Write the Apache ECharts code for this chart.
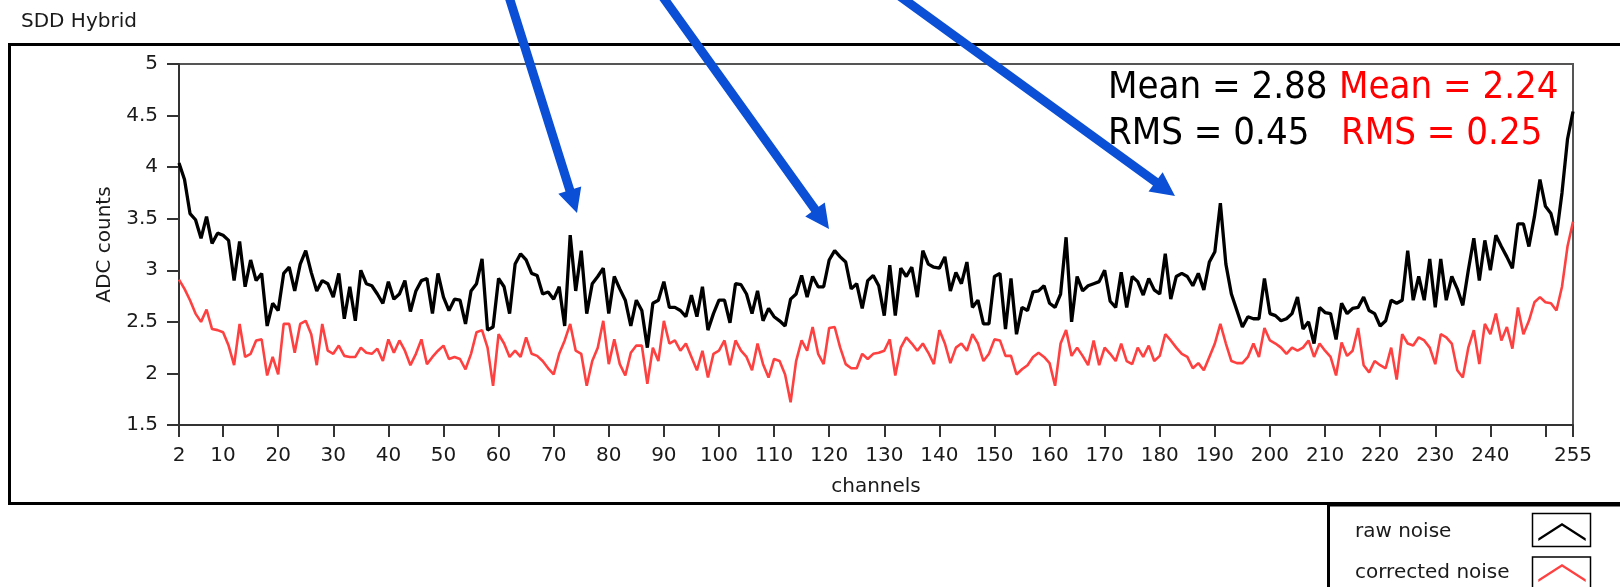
<!DOCTYPE html>
<html>
<head>
<meta charset="utf-8">
<title>SDD Hybrid</title>
<script src="https://cdn.jsdelivr.net/npm/echarts@6/dist/echarts.min.js"></script>
<style>
  html, body { margin: 0; padding: 0; background: #fff; }
  #main { width: 1620px; height: 587px; }
</style>
</head>
<body>
<div id="main"></div>
<script>
// channel numbers start at 2, one value per channel up to 255
const FIRST_CHANNEL = 2;

const rawNoise = [
  4.04, 3.88, 3.55, 3.49, 3.31, 3.52, 3.26, 3.36, 3.34, 3.29,
  2.90, 3.28, 2.84, 3.10, 2.90, 2.97, 2.46, 2.68, 2.61, 2.97,
  3.03, 2.80, 3.06, 3.19, 2.98, 2.80, 2.90, 2.87, 2.74, 2.97,
  2.53, 2.84, 2.51, 3.00, 2.87, 2.85, 2.77, 2.68, 2.89, 2.72,
  2.77, 2.90, 2.60, 2.80, 2.90, 2.92, 2.58, 2.97, 2.74, 2.61,
  2.72, 2.71, 2.48, 2.80, 2.87, 3.11, 2.42, 2.45, 2.92, 2.84,
  2.58, 3.06, 3.16, 3.10, 2.97, 2.95, 2.77, 2.79, 2.72, 2.84,
  2.46, 3.34, 2.80, 3.19, 2.58, 2.87, 2.94, 3.02, 2.58, 2.94,
  2.82, 2.71, 2.46, 2.71, 2.61, 2.25, 2.68, 2.71, 2.89, 2.64,
  2.64, 2.61, 2.55, 2.76, 2.55, 2.84, 2.42, 2.58, 2.71, 2.71,
  2.49, 2.87, 2.86, 2.77, 2.58, 2.80, 2.51, 2.63, 2.55, 2.51,
  2.46, 2.72, 2.77, 2.95, 2.74, 2.94, 2.84, 2.84, 3.10, 3.19,
  3.13, 3.08, 2.82, 2.87, 2.63, 2.90, 2.95, 2.85, 2.56, 3.05,
  2.56, 3.02, 2.94, 3.03, 2.74, 3.19, 3.06, 3.03, 3.02, 3.13,
  2.80, 2.98, 2.87, 3.08, 2.64, 2.71, 2.48, 2.48, 2.94, 2.97,
  2.43, 2.92, 2.38, 2.64, 2.61, 2.79, 2.80, 2.85, 2.68, 2.64,
  2.77, 3.32, 2.50, 2.94, 2.80, 2.85, 2.87, 2.89, 3.00, 2.70,
  2.64, 2.98, 2.64, 2.94, 2.89, 2.76, 2.92, 2.81, 2.77, 3.16,
  2.72, 2.94, 2.97, 2.94, 2.85, 2.97, 2.81, 3.08, 3.18, 3.65,
  3.06, 2.77, 2.61, 2.45, 2.55, 2.53, 2.53, 2.92, 2.58, 2.56,
  2.51, 2.53, 2.58, 2.74, 2.43, 2.50, 2.29, 2.64, 2.59, 2.58,
  2.33, 2.68, 2.58, 2.63, 2.64, 2.74, 2.61, 2.58, 2.46, 2.51,
  2.71, 2.68, 2.71, 3.19, 2.71, 2.94, 2.71, 3.11, 2.64, 3.11,
  2.71, 2.94, 2.82, 2.66, 3.00, 3.31, 2.90, 3.29, 3.00, 3.34,
  3.23, 3.13, 3.02, 3.45, 3.45, 3.23, 3.52, 3.88, 3.62, 3.55,
  3.34, 3.75, 4.27, 4.54
];

const correctedNoise = [
  2.91, 2.82, 2.71, 2.58, 2.50, 2.62, 2.43, 2.42, 2.40, 2.27,
  2.08, 2.48, 2.16, 2.19, 2.32, 2.33, 1.98, 2.16, 1.99, 2.48,
  2.48, 2.20, 2.48, 2.51, 2.38, 2.08, 2.48, 2.22, 2.19, 2.27,
  2.17, 2.16, 2.16, 2.25, 2.20, 2.19, 2.24, 2.12, 2.33, 2.20,
  2.32, 2.22, 2.08, 2.19, 2.33, 2.09, 2.16, 2.22, 2.27, 2.14,
  2.16, 2.14, 2.04, 2.19, 2.40, 2.42, 2.25, 1.88, 2.38, 2.29,
  2.16, 2.22, 2.16, 2.35, 2.19, 2.17, 2.12, 2.05, 1.99, 2.19,
  2.32, 2.48, 2.22, 2.19, 1.88, 2.12, 2.25, 2.51, 2.09, 2.33,
  2.09, 1.98, 2.20, 2.27, 2.27, 1.90, 2.25, 2.12, 2.51, 2.29,
  2.32, 2.22, 2.29, 2.16, 2.03, 2.22, 1.96, 2.19, 2.22, 2.32,
  2.08, 2.32, 2.22, 2.16, 2.03, 2.29, 2.09, 1.96, 2.14, 2.12,
  1.99, 1.72, 2.12, 2.32, 2.22, 2.45, 2.19, 2.09, 2.44, 2.45,
  2.25, 2.09, 2.05, 2.05, 2.19, 2.14, 2.19, 2.20, 2.22, 2.33,
  1.98, 2.25, 2.35, 2.29, 2.22, 2.29, 2.20, 2.09, 2.42, 2.29,
  2.10, 2.25, 2.29, 2.22, 2.38, 2.29, 2.12, 2.19, 2.33, 2.32,
  2.17, 2.17, 1.99, 2.04, 2.08, 2.16, 2.20, 2.16, 2.10, 1.88,
  2.29, 2.42, 2.17, 2.25, 2.17, 2.08, 2.32, 2.08, 2.25, 2.19,
  2.12, 2.29, 2.12, 2.09, 2.25, 2.16, 2.27, 2.12, 2.17, 2.38,
  2.32, 2.25, 2.19, 2.16, 2.05, 2.10, 2.03, 2.16, 2.29, 2.48,
  2.29, 2.12, 2.10, 2.10, 2.16, 2.29, 2.16, 2.44, 2.32, 2.29,
  2.25, 2.19, 2.25, 2.22, 2.25, 2.32, 2.16, 2.29, 2.22, 2.16,
  1.98, 2.30, 2.17, 2.22, 2.44, 2.08, 2.01, 2.12, 2.08, 2.05,
  2.25, 1.94, 2.38, 2.29, 2.27, 2.35, 2.32, 2.25, 2.09, 2.38,
  2.35, 2.29, 2.03, 1.96, 2.25, 2.42, 2.09, 2.48, 2.38, 2.58,
  2.32, 2.45, 2.24, 2.64, 2.38, 2.51, 2.69, 2.74, 2.69, 2.68,
  2.61, 2.84, 3.23, 3.47
];

const xLabelValues = [2, 10, 20, 30, 40, 50, 60, 70, 80, 90, 100, 110, 120, 130, 140, 150,
  160, 170, 180, 190, 200, 210, 220, 230, 240, 255];
const xTickValues = [2, 10, 20, 30, 40, 50, 60, 70, 80, 90, 100, 110, 120, 130, 140, 150,
  160, 170, 180, 190, 200, 210, 220, 230, 240, 250, 255];

const statsRaw = ['Mean = 2.88', 'RMS = 0.45'];
const statsCorrected = ['Mean = 2.24', 'RMS = 0.25'];

const FONT = '"DejaVu Sans", sans-serif';
const HAND = '"DejaVu Sans Condensed", "DejaVu Sans", sans-serif';
const chevron = 'path://M0,16 L25,0 L50,16 L50,19 L25,3 L0,19 Z';

const toPoints = arr => arr.map((v, i) => [FIRST_CHANNEL + i, v]);

// blue call-out arrow: shaft + head as one polygon
function arrow(x0, y0, x1, y1) {
  const dx = x1 - x0, dy = y1 - y0;
  const len = Math.sqrt(dx * dx + dy * dy);
  const ux = dx / len, uy = dy / len;
  const nx = -uy, ny = ux;
  const sx = x0 - ux * 15, sy = y0 - uy * 15;
  const head = 24, hw = 12, sw = 4.5;
  const bx = x1 - ux * head, by = y1 - uy * head;
  return {
    type: 'polygon',
    shape: {
      points: [
        [sx + nx * sw, sy + ny * sw],
        [bx + nx * sw, by + ny * sw],
        [bx + nx * hw, by + ny * hw],
        [x1, y1],
        [bx - nx * hw, by - ny * hw],
        [bx - nx * sw, by - ny * sw],
        [sx - nx * sw, sy - ny * sw]
      ]
    },
    style: {fill: '#0A4FD5'},
    z: 100
  };
}

const chart = echarts.init(document.getElementById('main'));

chart.setOption({
  backgroundColor: '#fff',
  animation: false,
  title: {
    text: 'SDD Hybrid',
    left: 21,
    top: 12,
    padding: 0,
    textStyle: {fontSize: 20, fontWeight: 'normal', color: '#1a1a1a', fontFamily: FONT}
  },
  grid: {
    left: 179,
    top: 64,
    width: 1394,
    height: 361,
    show: true,
    borderColor: '#555',
    borderWidth: 2
  },
  legend: {
    orient: 'vertical',
    left: 1355,
    top: 522,
    padding: 0,
    align: 'right',
    itemWidth: 50,
    itemHeight: 18,
    itemGap: 21,
    formatter: name => '{t|' + name + '}',
    textStyle: {
      fontSize: 20,
      color: '#1a1a1a',
      fontFamily: FONT,
      rich: {t: {width: 177, align: 'left', fontSize: 20, lineHeight: 22, fontFamily: FONT, color: '#1a1a1a'}}
    },
    data: [
      {name: 'raw noise', icon: chevron, itemStyle: {color: '#000'}},
      {name: 'corrected noise', icon: chevron, itemStyle: {color: '#FF4040'}}
    ]
  },
  xAxis: {
    type: 'value',
    min: 2,
    max: 255,
    name: 'channels',
    nameLocation: 'middle',
    nameGap: 52,
    nameTextStyle: {fontSize: 20, color: '#1a1a1a', fontFamily: FONT},
    axisLine: {show: true, lineStyle: {color: '#333', width: 2}},
    axisTick: {show: true, customValues: xTickValues, length: 12, lineStyle: {color: '#333', width: 2}},
    axisLabel: {customValues: xLabelValues, margin: 21, fontSize: 20, color: '#1a1a1a', fontFamily: FONT},
    splitLine: {show: false}
  },
  yAxis: {
    type: 'value',
    min: 1.5,
    max: 5,
    interval: 0.5,
    name: 'ADC counts',
    nameLocation: 'middle',
    nameRotate: 90,
    nameGap: 63,
    nameTextStyle: {fontSize: 20, color: '#1a1a1a', fontFamily: FONT},
    axisLine: {show: true, lineStyle: {color: '#333', width: 2}},
    axisTick: {show: true, length: 12, lineStyle: {color: '#333', width: 2}},
    axisLabel: {margin: 21, fontSize: 20, color: '#1a1a1a', fontFamily: FONT},
    splitLine: {show: false}
  },
  series: [
    {
      name: 'raw noise',
      type: 'line',
      data: toPoints(rawNoise),
      showSymbol: false,
      symbol: 'none',
      lineStyle: {color: '#000', width: 3.3},
      itemStyle: {color: '#000'},
      z: 3
    },
    {
      name: 'corrected noise',
      type: 'line',
      data: toPoints(correctedNoise),
      showSymbol: false,
      symbol: 'none',
      lineStyle: {color: '#FF4040', width: 2.6},
      itemStyle: {color: '#FF4040'},
      z: 4
    }
  ],
  graphic: [
    // outer panel frame and legend box
    {type: 'rect', shape: {x: 9.5, y: 44.5, width: 1640, height: 459}, style: {fill: 'none', stroke: '#000', lineWidth: 3}},
    {type: 'rect', shape: {x: 1328.5, y: 505, width: 400, height: 200}, style: {fill: 'none', stroke: '#000', lineWidth: 3}},
    {type: 'rect', shape: {x: 1532.5, y: 513.5, width: 58, height: 33}, style: {fill: 'none', stroke: '#000', lineWidth: 1.5}},
    {type: 'rect', shape: {x: 1532.5, y: 557, width: 58, height: 40}, style: {fill: 'none', stroke: '#000', lineWidth: 1.5}},
    // statistics annotations
    {type: 'text', style: {x: 1108, y: 88, text: statsRaw[0], font: '38px ' + HAND, fill: '#000', verticalAlign: 'middle'}},
    {type: 'text', style: {x: 1339, y: 88, text: statsCorrected[0], font: '38px ' + HAND, fill: '#FF0000', verticalAlign: 'middle'}},
    {type: 'text', style: {x: 1108, y: 134, text: statsRaw[1], font: '38px ' + HAND, fill: '#000', verticalAlign: 'middle'}},
    {type: 'text', style: {x: 1341, y: 134, text: statsCorrected[1], font: '38px ' + HAND, fill: '#FF0000', verticalAlign: 'middle'}},
    // call-out arrows
    arrow(510, 0, 577, 213),
    arrow(665, 0, 829, 229),
    arrow(905, 0, 1175, 196)
  ]
});
</script>
</body>
</html>
